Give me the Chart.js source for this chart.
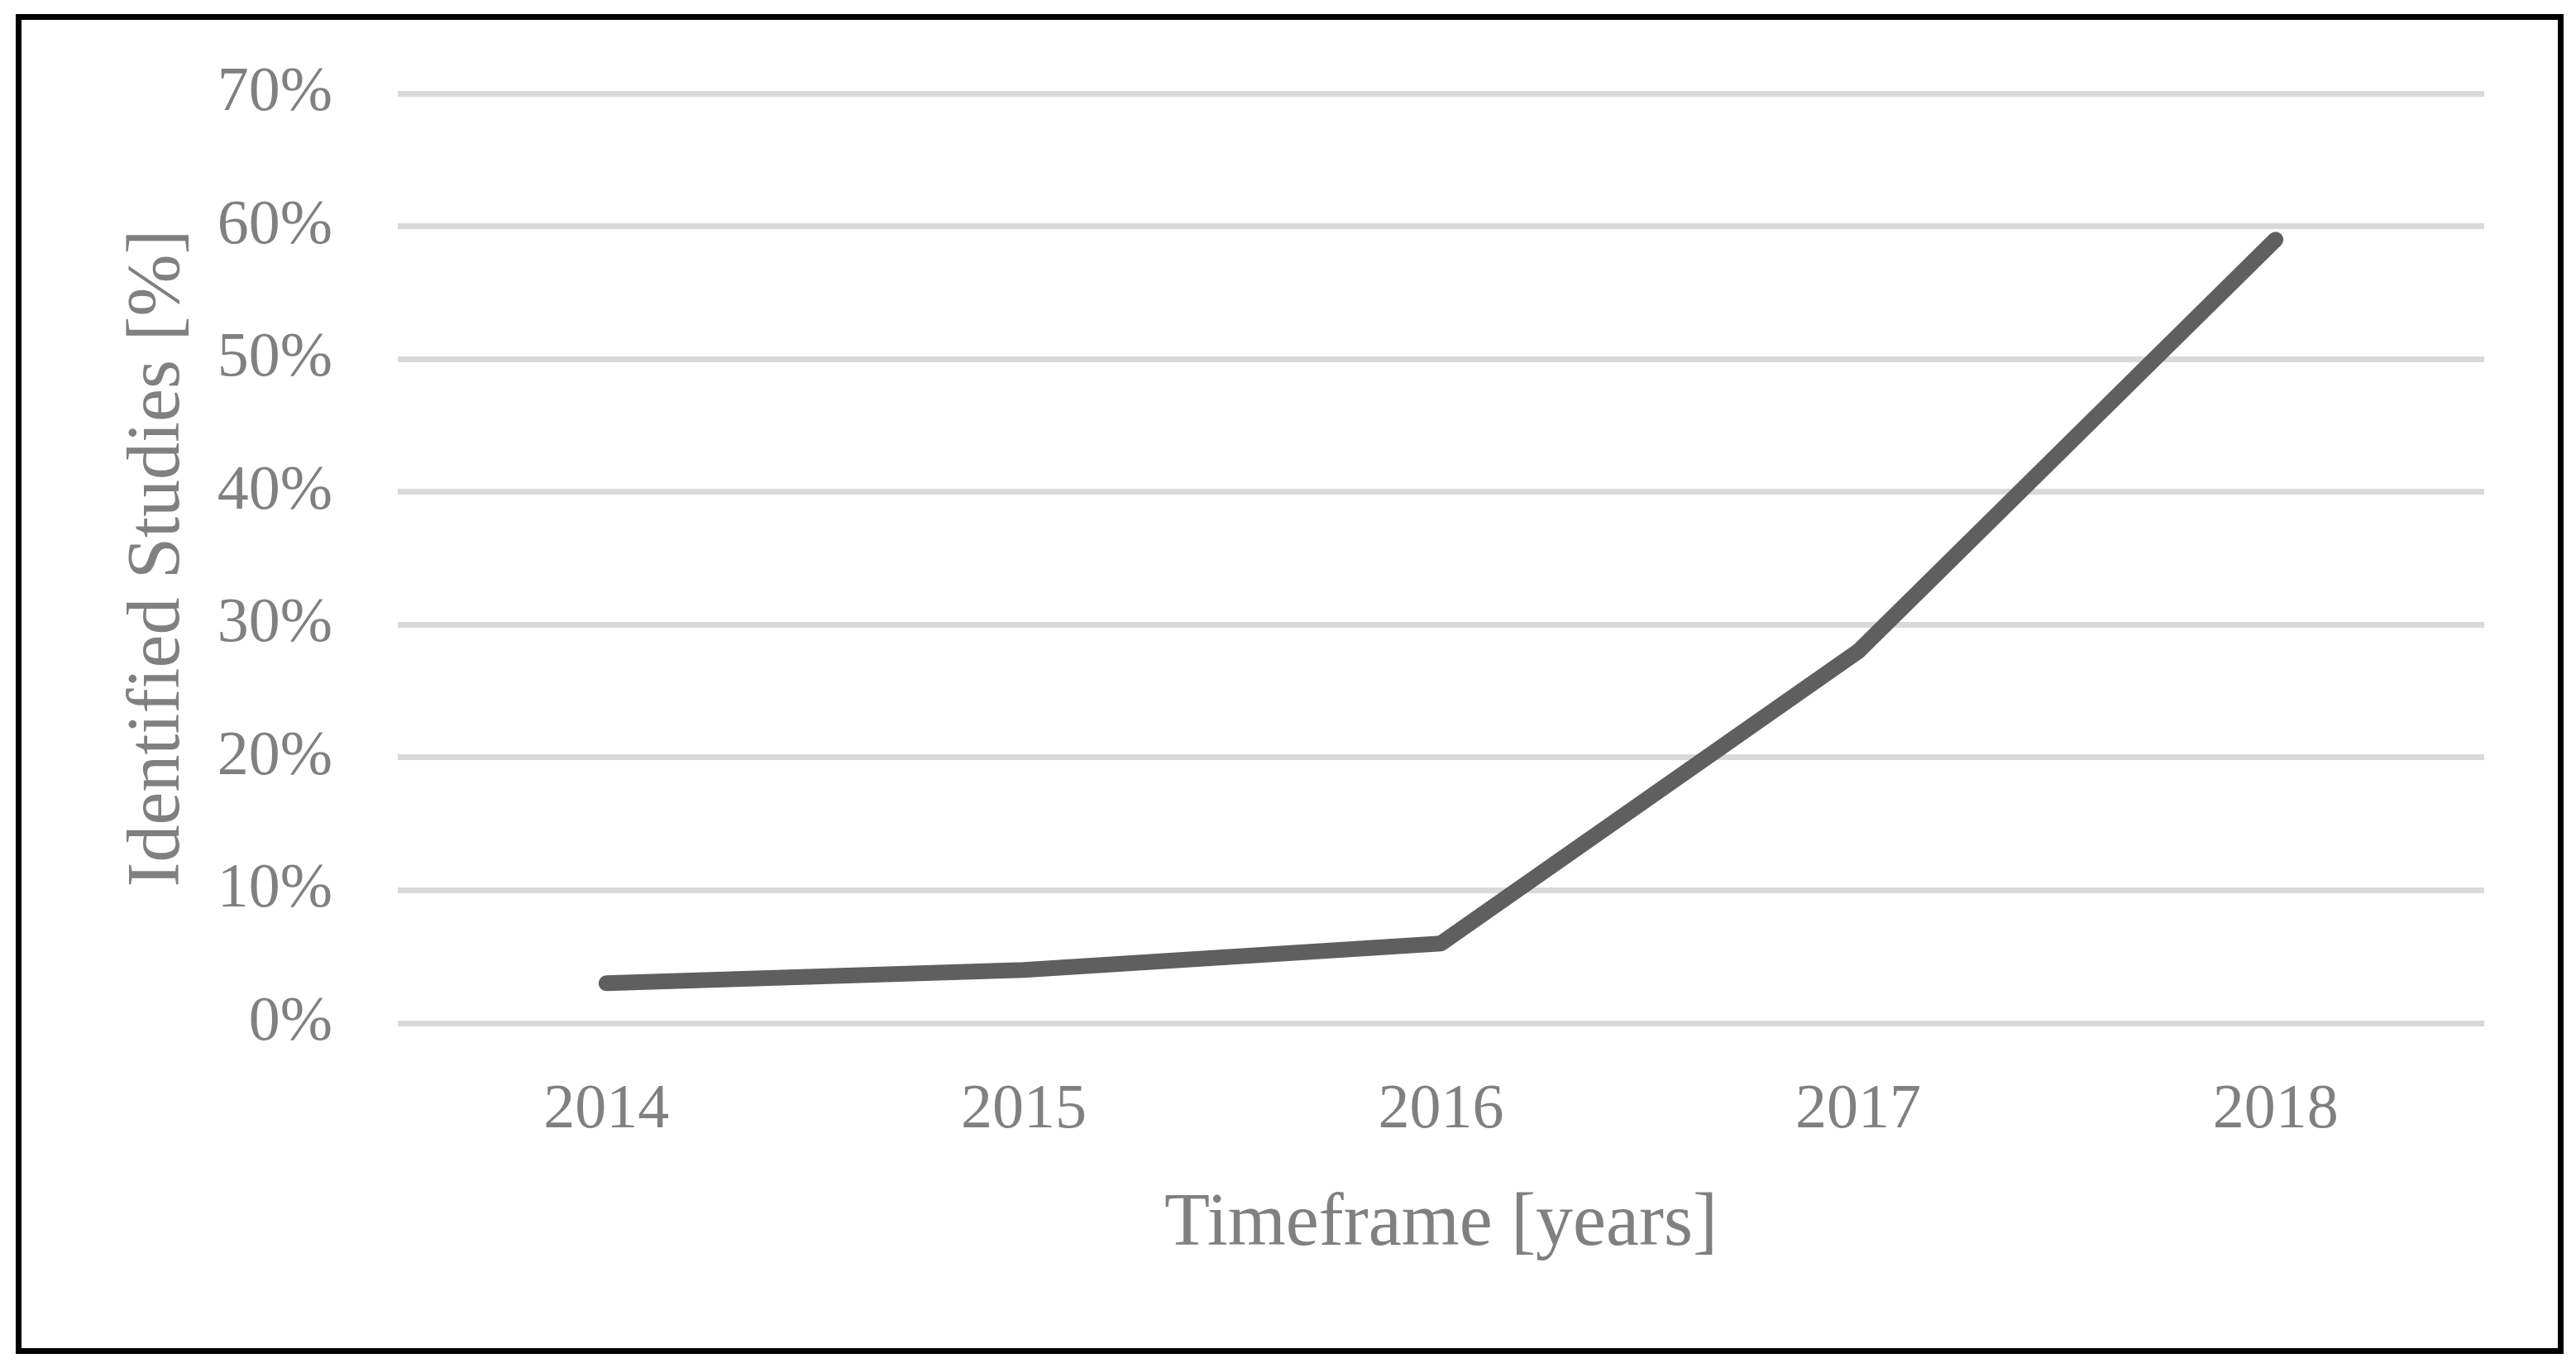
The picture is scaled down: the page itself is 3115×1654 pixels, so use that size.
<!DOCTYPE html>
<html lang="en">
<head>
    <meta charset="UTF-8">
    <title>Identified Studies per Year</title>
    <script src="https://cdn.jsdelivr.net/npm/chart.js"></script>
    <style>
        body {
            margin: 0;
            background: #ffffff;
        }
        .frame {
            position: absolute;
            left: 19px;
            top: 17px;
            width: 3081px;
            height: 1620px;
            box-sizing: border-box;
            border: 7px solid #000000;
            background: #ffffff;
        }
        canvas {
            display: block;
        }
    </style>
</head>
<body>

    <div class="frame">
        <canvas id="studiesChart" width="3067" height="1606"></canvas>
    </div>

    <script>
        // Values
        const years = ['2014', '2015', '2016', '2017', '2018'];
        const identifiedStudies = [3, 4, 6, 28, 59];   // percent
        const yMin = 0;
        const yMax = 70;
        const yStep = 10;

        const grey = '#808080';
        const serif = "'Palatino Linotype', 'Book Antiqua', 'Liberation Serif', serif";

        new Chart(document.getElementById('studiesChart').getContext('2d'), {
            type: 'line',
            data: {
                labels: years,
                datasets: [{
                    label: 'Identified Studies',
                    data: identifiedStudies,
                    borderColor: '#5f5f5f',
                    borderWidth: 19,
                    borderCapStyle: 'round',
                    borderJoinStyle: 'round',
                    pointRadius: 0,
                    tension: 0,
                    fill: false
                }]
            },
            options: {
                responsive: false,
                animation: false,
                layout: {
                    padding: { left: 0, top: 89, right: 89, bottom: 0 }
                },
                plugins: {
                    legend: { display: false },
                    tooltip: { enabled: false }
                },
                scales: {
                    x: {
                        offset: true,
                        grid: { display: false, drawTicks: false },
                        border: { display: false },
                        ticks: {
                            color: grey,
                            padding: 60,
                            font: { family: serif, size: 76 }
                        },
                        title: {
                            display: true,
                            text: 'Timeframe [years]',
                            color: grey,
                            padding: { top: 0, bottom: 95 },
                            font: { family: serif, size: 90 }
                        },
                        afterFit: scale => {
                            scale.height = 393;
                            scale.paddingLeft = 0;
                            scale.paddingRight = 0;
                        }
                    },
                    y: {
                        min: yMin,
                        max: yMax,
                        grid: {
                            color: '#d9d9d9',
                            lineWidth: 7,
                            drawTicks: false
                        },
                        border: { display: false },
                        ticks: {
                            stepSize: yStep,
                            color: grey,
                            padding: 79,
                            font: { family: serif, size: 76 },
                            callback: value => value + '%'
                        },
                        title: {
                            display: true,
                            text: 'Identified Studies [%]',
                            color: grey,
                            padding: { top: 112, bottom: 0 },
                            font: { family: serif, size: 90 }
                        },
                        afterFit: scale => {
                            scale.width = 455;
                            scale.paddingTop = 0;
                            scale.paddingBottom = 0;
                        }
                    }
                }
            }
        });
    </script>

</body>
</html>
